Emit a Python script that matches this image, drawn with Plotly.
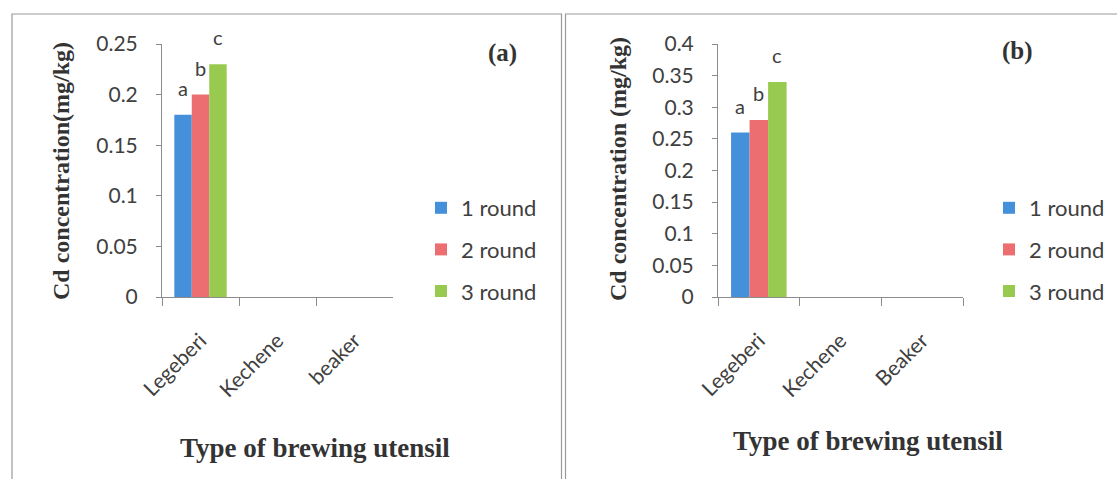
import plotly.graph_objects as go

categories_a = ["Legeberi", "Kechene", "beaker"]
categories_b = ["Legeberi", "Kechene", "Beaker"]
series_names = ["1 round", "2 round", "3 round"]
values_a = {"1 round": [0.18, 0, 0], "2 round": [0.20, 0, 0], "3 round": [0.23, 0, 0]}
values_b = {"1 round": [0.26, 0, 0], "2 round": [0.28, 0, 0], "3 round": [0.34, 0, 0]}
letters = {"1 round": ["a", "", ""], "2 round": ["b", "", ""], "3 round": ["c", "", ""]}
colors = {"1 round": "#4590da", "2 round": "#ec6e70", "3 round": "#98ca50"}
yticks_a = [0, 0.05, 0.1, 0.15, 0.2, 0.25]
yticks_b = [0, 0.05, 0.1, 0.15, 0.2, 0.25, 0.3, 0.35, 0.4]

W, H = 1117, 479
def px(x):
    return x / W
def py(y):
    return 1 - y / H

SANS = "Lato, Carlito, sans-serif"
SERIF = "Liberation Serif, Times New Roman, serif"
TXT = "#404040"

fig = go.Figure()
panels = [
    dict(cats=categories_a, vals=values_a, xa="x", ya="y", leg="legend", x0=162, x1=393),
    dict(cats=categories_b, vals=values_b, xa="x2", ya="y2", leg="legend2", x0=718, x1=963),
]
BARGAP = 0.32
for p in panels:
    for s in series_names:
        fig.add_trace(go.Bar(
            x=p["cats"], y=p["vals"][s], name=s, marker_color=colors[s], marker_line_width=0,
            xaxis=p["xa"], yaxis=p["ya"], legend=p["leg"], legendgroup=s + p["xa"],
        ))
    # letter labels above bars, positioned from the data and the bar geometry
    cat_w = (p["x1"] - p["x0"]) / len(p["cats"])
    bar_w = cat_w * (1 - BARGAP) / len(series_names)
    for k, s in enumerate(series_names):
        shift = (k - (len(series_names) - 1) / 2) * bar_w
        for c, v, t in zip(p["cats"], p["vals"][s], letters[s]):
            if t:
                fig.add_annotation(x=c, y=v, xref=p["xa"], yref=p["ya"], text=t, showarrow=False,
                                   xshift=shift, yshift=13, yanchor="bottom",
                                   font=dict(family=SANS, size=20, color=TXT))

axis_common = dict(showgrid=False, zeroline=False, showline=True, linecolor="#8c8c8c",
                   linewidth=1, ticks="outside", tickcolor="#8c8c8c")
tick_font = dict(family=SANS, size=21, color=TXT)
xcommon = dict(tickangle=-45, tickson="boundaries", ticklen=8, ticklabelstandoff=22,
               tickfont=dict(family=SANS, size=21, color=TXT), **axis_common)
ycommon = dict(ticklen=5, ticklabelstandoff=14, tickfont=tick_font, **axis_common)
legcommon = dict(xanchor="left", yanchor="top", tracegroupgap=10,
                 font=dict(family=SANS, size=22, color=TXT), itemwidth=30,
                 bgcolor="rgba(0,0,0,0)")

fig.update_layout(
    width=W, height=H, margin=dict(l=0, r=0, t=0, b=0, autoexpand=False),
    paper_bgcolor="white", plot_bgcolor="white",
    barmode="group", bargap=BARGAP, bargroupgap=0,
    xaxis=dict(domain=[px(162), px(393)], anchor="y", **xcommon),
    yaxis=dict(domain=[py(297), py(44)], anchor="x", range=[0, 0.25], tickvals=yticks_a,
               ticktext=[f"{v:g}" for v in yticks_a], **ycommon),
    xaxis2=dict(domain=[px(718), px(963)], anchor="y2", **xcommon),
    yaxis2=dict(domain=[py(297), py(44)], anchor="x2", range=[0, 0.4], tickvals=yticks_b,
                ticktext=[f"{v:g}" for v in yticks_b], **ycommon),
    legend=dict(x=px(421), y=py(187), **legcommon),
    legend2=dict(x=px(989), y=py(187), **legcommon),
    showlegend=True,
)

annos = [
    dict(text="<b>Cd concentration(mg/kg)</b>", x=px(61), y=py(171), textangle=-90,
         font=dict(family=SERIF, size=24, color="#333333")),
    dict(text="<b>Cd concentration (mg/kg)</b>", x=px(618), y=py(169), textangle=-90,
         font=dict(family=SERIF, size=24, color="#333333")),
    dict(text="<b>Type of brewing utensil</b>", x=px(315), y=py(448),
         font=dict(family=SERIF, size=27, color="#333333")),
    dict(text="<b>Type of brewing utensil</b>", x=px(868), y=py(441),
         font=dict(family=SERIF, size=27, color="#333333")),
    dict(text="<b>(a)</b>", x=px(502), y=py(53), font=dict(family=SERIF, size=25, color="#333333")),
    dict(text="<b>(b)</b>", x=px(1017), y=py(51), font=dict(family=SERIF, size=25, color="#333333")),
]
for a in annos:
    fig.add_annotation(xref="paper", yref="paper", showarrow=False, xanchor="center", yanchor="middle", **a)

fig.add_shape(type="rect", xref="paper", yref="paper", x0=px(12), x1=px(561.5), y0=-0.05, y1=py(14),
              line=dict(color="#999999", width=1.2))
fig.add_shape(type="rect", xref="paper", yref="paper", x0=px(565.5), x1=1.05, y0=-0.05, y1=py(14),
              line=dict(color="#999999", width=1.2))

fig.write_html("out.html", config={"displayModeBar": False},
               post_script="document.body.style.margin='0';document.documentElement.style.overflow='hidden';document.body.style.overflow='hidden';")
